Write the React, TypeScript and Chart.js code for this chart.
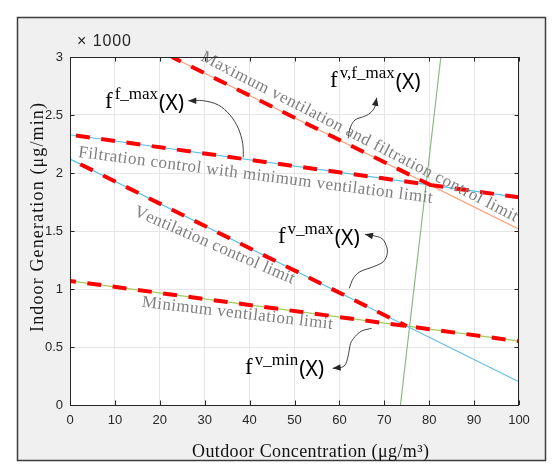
import { useEffect, useRef } from "react";
import { Chart, registerables } from "chart.js";

Chart.register(...registerables);

const SERIF = '"Liberation Serif", "Times New Roman", serif';
const SANS = '"Liberation Sans", Arial, sans-serif';
const XSANS = '"Noto Sans", "Open Sans", sans-serif';

// ---- axis ranges / ticks ----
const xMin = 0;
const xMax = 100;
const xStep = 10;
const yMin = 0;
const yMax = 3;
const yStep = 0.5;
const yExponentLabel = "× 1000";
const xTitle = "Outdoor Concentration (μg/m³)";
const yTitle = "Indoor Generation (μg/min)";

// ---- constraint lines (x in μg/m3, y in 1000 μg/min) ----
const maxVentFiltX = [22.7, 100];
const maxVentFiltY = [3, 1.515];
const filtCtrlX = [0, 100];
const filtCtrlY = [2.33, 1.79];
const ventCtrlX = [0, 100];
const ventCtrlY = [2.12, 0.2];
const minVentX = [0, 100];
const minVentY = [1.07, 0.55];
const boundaryX = [73.6, 82.6];
const boundaryY = [0, 3];

// ---- red dashed bound functions ----
const fvfMaxX = [22.7, 80.3];
const fvfMaxY = [3, 1.896];
const ffMaxX = [0, 100];
const ffMaxY = [2.33, 1.79];
const fvMaxX = [0, 75];
const fvMaxY = [2.12, 0.68];
const fvMinX = [0, 100];
const fvMinY = [1.07, 0.55];

// ---- text labels along lines (start in data units) ----
const lineLabelTexts = [
  "Maximum ventilation and filtration control limit",
  "Filtration control with minimum ventilation limit",
  "Ventilation control limit",
  "Minimum ventilation limit",
];
const lineLabelX = [28.95, 1.74, 14.1, 15.9];
const lineLabelY = [2.974, 2.139, 1.636, 0.846];
const lineLabelAngle = [27.2, 7.4, 23.4, 6.6];
const lineLabelLen = [354, 357, 173, 192];

// ---- function annotations ----
const annSup = ["f_max", "v,f_max", "v_max", "v_min"];
const annX = [7.8, 57.9, 46.3, 38.98];
const annY = [2.563, 2.741, 1.394, 0.267];

const arrowPaths: number[][][] = [
  [[38.6, 2.135], [38.46, 2.256], [37.48, 2.385], [35.63, 2.5], [33.03, 2.586], [29.69, 2.623], [26.35, 2.623]],
  [[61.98, 2.299], [62.36, 2.385], [63.47, 2.457], [65.32, 2.485], [66.82, 2.515], [67.93, 2.572], [68.31, 2.649]],
  [[62.2, 1.006], [63.1, 1.092], [64.59, 1.149], [67.55, 1.192], [69.78, 1.235], [70.67, 1.308], [70.38, 1.379], [69.2, 1.442], [65.7, 1.471]],
  [[67.19, 0.661], [64.96, 0.638], [63.47, 0.589], [62.51, 0.532], [62.07, 0.446], [61.47, 0.359], [60.5, 0.325], [58.5, 0.316]],
];

const pts = (xs: number[], ys: number[]) => xs.map((x, i) => ({ x, y: ys[i] }));

function fitText(ctx: CanvasRenderingContext2D, text: string, len: number) {
  const chars = Array.from(text);
  const widths = chars.map((c) => ctx.measureText(c).width);
  const total = widths.reduce((a, b) => a + b, 0);
  const ls = chars.length > 1 ? (len - total) / (chars.length - 1) : 0;
  let cx = 0;
  chars.forEach((c, i) => {
    ctx.fillText(c, cx, 0);
    cx += widths[i] + ls;
  });
}

function smoothPath(ctx: CanvasRenderingContext2D, p: number[][]) {
  ctx.beginPath();
  ctx.moveTo(p[0][0], p[0][1]);
  for (let i = 0; i < p.length - 1; i++) {
    const p0 = p[i - 1] || p[i];
    const p1 = p[i];
    const p2 = p[i + 1];
    const p3 = p[i + 2] || p2;
    const c1x = p1[0] + (p2[0] - p0[0]) / 6;
    const c1y = p1[1] + (p2[1] - p0[1]) / 6;
    const c2x = p2[0] - (p3[0] - p1[0]) / 6;
    const c2y = p2[1] - (p3[1] - p1[1]) / 6;
    ctx.bezierCurveTo(c1x, c1y, c2x, c2y, p2[0], p2[1]);
  }
  ctx.stroke();
}

export default function App() {
  const ref = useRef<HTMLCanvasElement>(null);

  useEffect(() => {
    const canvas = ref.current;
    if (!canvas) return;

    const decor = {
      id: "decor",
      beforeDraw(chart: any) {
        const ctx: CanvasRenderingContext2D = chart.ctx;
        const a = chart.chartArea;
        ctx.save();
        ctx.fillStyle = "#ffffff";
        ctx.fillRect(0, 0, chart.width, chart.height);
        ctx.fillStyle = "#f0f0f0";
        ctx.fillRect(17.5, 17.5, 528, 443);
        ctx.strokeStyle = "#3c3c3c";
        ctx.lineWidth = 1.5;
        ctx.strokeRect(17.5, 17.5, 528, 443);
        ctx.fillStyle = "#ffffff";
        ctx.fillRect(a.left, a.top, a.right - a.left, a.bottom - a.top);
        ctx.restore();
      },
      afterDraw(chart: any) {
        const ctx: CanvasRenderingContext2D = chart.ctx;
        const a = chart.chartArea;
        const xs = chart.scales.x;
        const ys = chart.scales.y;
        const X = (v: number) => xs.getPixelForValue(v);
        const Y = (v: number) => ys.getPixelForValue(v);
        ctx.save();

        // rotated line labels
        ctx.fillStyle = "#808080";
        ctx.font = `17px ${SERIF}`;
        ctx.textBaseline = "alphabetic";
        ctx.textAlign = "left";
        lineLabelTexts.forEach((t, i) => {
          ctx.save();
          ctx.translate(X(lineLabelX[i]), Y(lineLabelY[i]));
          ctx.rotate((lineLabelAngle[i] * Math.PI) / 180);
          fitText(ctx, t, lineLabelLen[i]);
          ctx.restore();
        });

        // axes box + inward ticks
        ctx.strokeStyle = "#262626";
        ctx.lineWidth = 1;
        ctx.strokeRect(a.left + 0.5, a.top + 0.5, a.right - a.left - 1, a.bottom - a.top);
        const tl = 4.5;
        ctx.beginPath();
        xs.ticks.forEach((t: any) => {
          const x = Math.round(X(t.value)) + 0.5;
          ctx.moveTo(x, a.bottom);
          ctx.lineTo(x, a.bottom - tl);
          ctx.moveTo(x, a.top);
          ctx.lineTo(x, a.top + tl);
        });
        ys.ticks.forEach((t: any) => {
          const y = Math.round(Y(t.value)) + 0.5;
          ctx.moveTo(a.left, y);
          ctx.lineTo(a.left + tl, y);
          ctx.moveTo(a.right, y);
          ctx.lineTo(a.right - tl, y);
        });
        ctx.stroke();

        // exponent label
        ctx.fillStyle = "#262626";
        ctx.font = `16px ${SANS}`;
        ctx.save();
        ctx.translate(a.left + 7, a.top - 11);
        fitText(ctx, yExponentLabel, 54);
        ctx.restore();

        // axis titles
        ctx.fillStyle = "#111111";
        ctx.font = `18px ${SERIF}`;
        ctx.save();
        ctx.translate(a.left + 122, a.bottom + 52);
        fitText(ctx, xTitle, 237);
        ctx.restore();
        ctx.save();
        ctx.translate(a.left - 27, a.bottom - 73);
        ctx.rotate(-Math.PI / 2);
        fitText(ctx, yTitle, 229);
        ctx.restore();

        // arrows
        ctx.strokeStyle = "#404040";
        ctx.fillStyle = "#262626";
        ctx.lineWidth = 1;
        arrowPaths.forEach((path) => {
          const p = path.map(([u, v]) => [X(u), Y(v)]);
          const tip = p[p.length - 1];
          const prev = p[p.length - 2];
          const ang = Math.atan2(tip[1] - prev[1], tip[0] - prev[0]);
          smoothPath(ctx, p);
          const L = 8;
          const W = 3.3;
          ctx.beginPath();
          ctx.moveTo(tip[0], tip[1]);
          ctx.lineTo(tip[0] - L * Math.cos(ang) + W * Math.sin(ang), tip[1] - L * Math.sin(ang) - W * Math.cos(ang));
          ctx.lineTo(tip[0] - L * Math.cos(ang) - W * Math.sin(ang), tip[1] - L * Math.sin(ang) + W * Math.cos(ang));
          ctx.closePath();
          ctx.fill();
        });

        // function annotations f^{...}(X)
        ctx.fillStyle = "#000000";
        annSup.forEach((s, i) => {
          let x = X(annX[i]);
          const b = Y(annY[i]);
          ctx.font = `23px ${SERIF}`;
          ctx.fillText("f", x, b);
          x += ctx.measureText("f").width + 2;
          ctx.font = `17px ${SERIF}`;
          ctx.fillText(s, x, b - 9);
          x += ctx.measureText(s).width + 1;
          ctx.font = `21px ${XSANS}`;
          ctx.fillText("(X)", x, b + 2);
        });

        ctx.restore();
      },
    };

    const chart = new Chart(canvas, {
      type: "scatter",
      data: {
        datasets: [
          { label: "fvfmax", data: pts(fvfMaxX, fvfMaxY), borderColor: "#ff0000", borderWidth: 4, borderDash: [14, 11.5], borderDashOffset: 4, order: 0 },
          { label: "ffmax", data: pts(ffMaxX, ffMaxY), borderColor: "#ff0000", borderWidth: 4, borderDash: [14, 11.5], borderDashOffset: 19.5, order: 0 },
          { label: "fvmax", data: pts(fvMaxX, fvMaxY), borderColor: "#ff0000", borderWidth: 4, borderDash: [14, 11.5], borderDashOffset: 14, order: 0 },
          { label: "fvmin", data: pts(fvMinX, fvMinY), borderColor: "#ff0000", borderWidth: 4, borderDash: [14, 11.5], borderDashOffset: 8, order: 0 },
          { label: "maxVentFilt", data: pts(maxVentFiltX, maxVentFiltY), borderColor: "#f7a27a", borderWidth: 1.2, order: 1 },
          { label: "filtCtrl", data: pts(filtCtrlX, filtCtrlY), borderColor: "#56bde9", borderWidth: 1.2, order: 1 },
          { label: "ventCtrl", data: pts(ventCtrlX, ventCtrlY), borderColor: "#56bde9", borderWidth: 1.2, order: 1 },
          { label: "minVent", data: pts(minVentX, minVentY), borderColor: "#a6cb58", borderWidth: 1.2, order: 1 },
          { label: "boundary", data: pts(boundaryX, boundaryY), borderColor: "#88bd80", borderWidth: 1.2, order: 1 },
        ].map((d) => ({ ...d, showLine: true, pointRadius: 0, pointHoverRadius: 0, fill: false, tension: 0, borderCapStyle: "butt" as const })),
      },
      options: {
        animation: false,
        responsive: false,
        events: [],
        layout: { padding: { left: 0, top: 57, right: 39, bottom: 0 } },
        plugins: { legend: { display: false }, tooltip: { enabled: false } },
        scales: {
          x: {
            type: "linear",
            min: xMin,
            max: xMax,
            ticks: { stepSize: xStep, autoSkip: false, maxRotation: 0, padding: 8, color: "#262626", font: { family: SANS, size: 13 } },
            grid: { color: "#e6e6e6", drawTicks: false },
            border: { display: false },
            afterFit: (s: any) => { s.height = 70; },
          },
          y: {
            type: "linear",
            min: yMin,
            max: yMax,
            ticks: { stepSize: yStep, padding: 7, color: "#262626", font: { family: SANS, size: 13 }, callback: (v: any) => String(v) },
            grid: { color: "#e6e6e6", drawTicks: false },
            border: { display: false },
            afterFit: (s: any) => { s.width = 70; },
          },
        },
      },
      plugins: [decor],
    } as any);

    return () => chart.destroy();
  }, []);

  return (
    <div style={{ position: "absolute", left: 0, top: 0, width: 558, height: 475 }}>
      <canvas ref={ref} width={558} height={475} style={{ display: "block", width: 558, height: 475 }} />
    </div>
  );
}
